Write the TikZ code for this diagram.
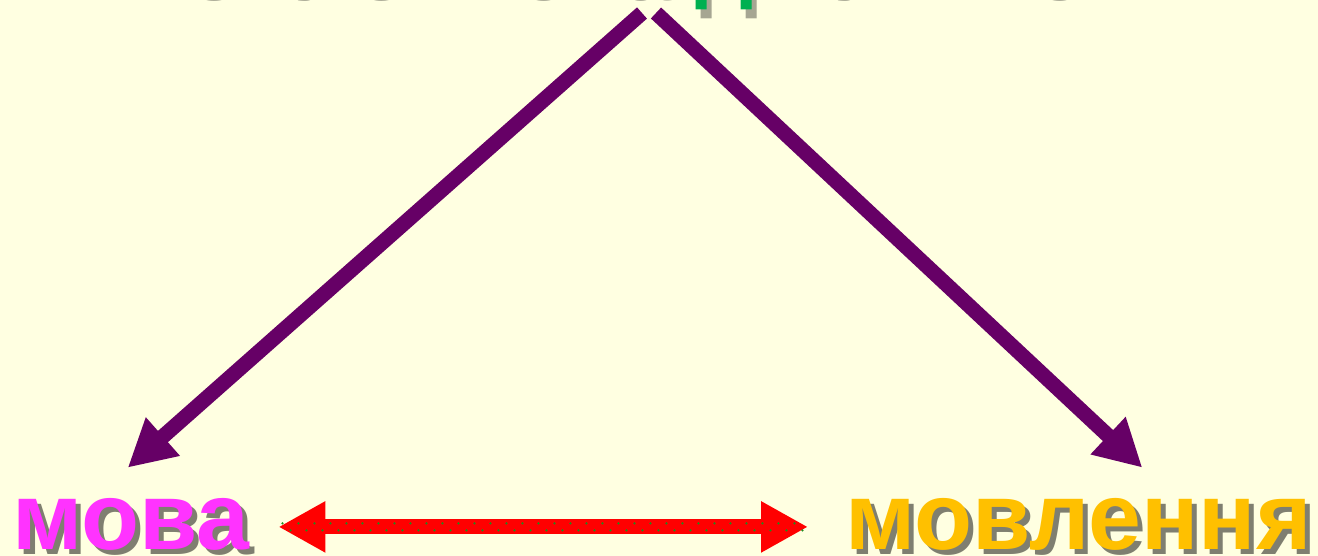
\documentclass[tikz,border=0pt]{standalone}
\usepackage{fontspec}
\setmainfont{Liberation Sans}
\usetikzlibrary{arrows.meta,positioning,calc}
\definecolor{paper}{HTML}{FFFFE1}
\definecolor{plum}{HTML}{660066}
\definecolor{pinkword}{HTML}{FF33FF}
\definecolor{goldword}{HTML}{FFC000}
\definecolor{titlegreen}{HTML}{00B050}
\definecolor{dotgreen}{HTML}{1E8C1E}

\begin{document}
\begin{tikzpicture}[x=1pt,y=1pt,
  word/.style={inner sep=0pt,font=\fontsize{95}{95}\selectfont\bfseries,text=#1},
  shade/.style={inner sep=0pt,font=\fontsize{95}{95}\selectfont\bfseries,text=black,opacity=0.5},
  parr/.style={plum,line width=15pt,-{Triangle[length=47pt,width=48pt]}},
  rarr/.style={red,line width=15pt,{Triangle[length=47pt,width=48pt]}-{Triangle[length=47pt,width=48pt]}},
  dots/.style={dotgreen,line width=2.5pt,line cap=round,dash pattern=on 0pt off 16pt},
]
  \fill[paper] (0,0) rectangle (1318,-556);
  \useasboundingbox (0,0) rectangle (1318,-556);

  % title, mostly above the frame
  \node[shade,opacity=0.35,font=\fontsize{92}{92}\selectfont\bfseries,anchor=base] at (653,-1) {мовленнєва діяльність};
  \node[word=titlegreen,font=\fontsize{92}{92}\selectfont\bfseries,anchor=base] (title) at (648,8) {мовленнєва діяльність};

  % the two words at the bottom
  \node[shade,anchor=base west] at (17,-554) {мова};
  \node[word=pinkword,anchor=base west] (mova) at (12,-549) {мова};
  \node[shade,anchor=base west] at (850,-554) {мовлення};
  \node[word=goldword,anchor=base west] (movl) at (845,-549) {мовлення};

  \coordinate (apexl) at (642,-13);
  \coordinate (apexr) at (656,-13);

  \draw[parr] (apexl) -- ([xshift=-3pt,yshift=30pt]mova.north);
  \draw[parr] (apexr) -- ([xshift=64pt,yshift=30pt]movl.north);

  \draw[rarr] ([xshift=29pt,yshift=-3pt]mova.east) -- ([xshift=-37pt,yshift=-3pt]movl.west);
  \draw[dots] ([xshift=33pt,yshift=0.5pt]mova.east) -- ([xshift=-41pt,yshift=0.5pt]movl.west);
  \draw[dots,dash phase=8pt] ([xshift=33pt,yshift=-6.5pt]mova.east) -- ([xshift=-41pt,yshift=-6.5pt]movl.west);
\end{tikzpicture}
\end{document}
